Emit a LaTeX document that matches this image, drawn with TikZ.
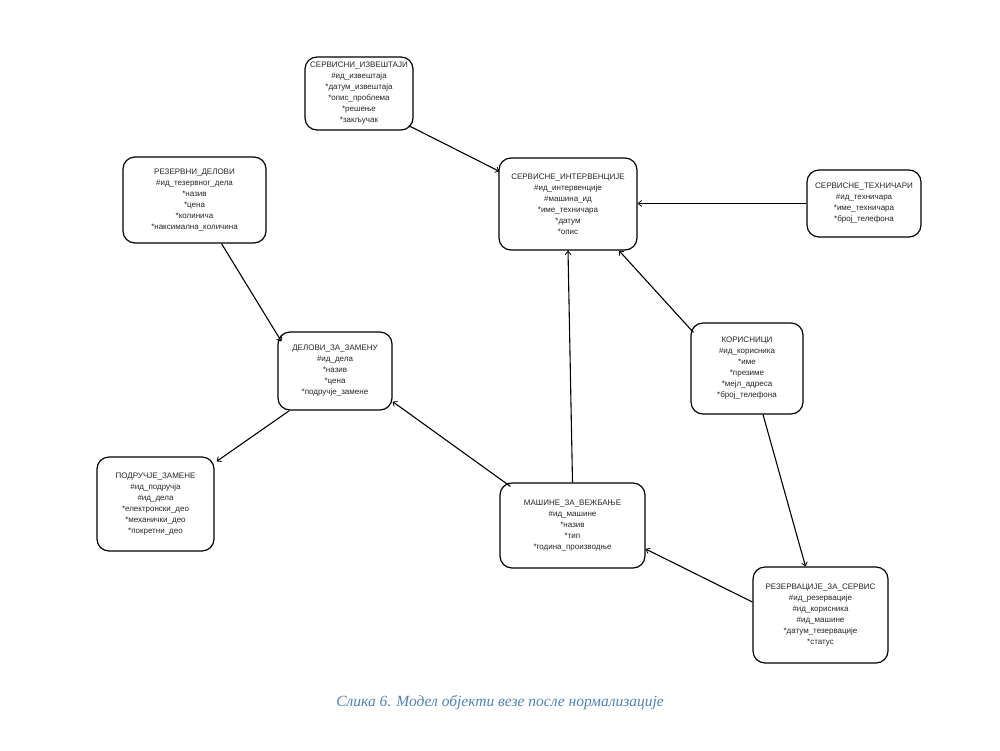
\documentclass[tikz,border=0pt]{standalone}
\usepackage{fontspec}
\setmainfont{Liberation Serif}
\newfontfamily\boxfont{Liberation Sans}
\usetikzlibrary{arrows.meta}
\definecolor{capblue}{RGB}{79,129,189}
\tikzset{
  ent/.style={draw=black, line width=1.2pt, rounded corners=12pt, align=center,
    font=\boxfont\fontsize{8}{11}\selectfont, text=black!85, inner sep=0pt, fill=white},
  conn/.style={draw=black, line width=1.1pt},
  crow/.style={conn, -{Straight Barb[length=3.5pt,width=6pt,line width=0.8pt]}}
}
\begin{document}
\begin{tikzpicture}[x=1pt,y=-1pt]
\path[fill=white] (0,0) rectangle (1000,750);
\useasboundingbox (0,0) rectangle (1000,750);

\node[ent, minimum width=108pt, minimum height=73pt] (izv) at (359,93.5)
 {СЕРВИСНИ\_ИЗВЕШТАЈИ\\\#ид\_извештаја\\*датум\_извештаја\\*опис\_проблема\\*решење\\*закључак};
\node[ent, minimum width=143pt, minimum height=86pt] (rez) at (194.5,200)
 {РЕЗЕРВНИ\_ДЕЛОВИ\\\#ид\_тезервног\_дела\\*назив\\*цена\\*колинича\\*наксимална\_количина};
\node[ent, minimum width=138pt, minimum height=92pt] (int) at (568,204)
 {СЕРВИСНЕ\_ИНТЕРВЕНЦИЈЕ\\\#ид\_интервенције\\\#машина\_ид\\*име\_техничара\\*датум\\*опис};
\node[ent, minimum width=114pt, minimum height=67pt] (teh) at (864,203.5)
 {СЕРВИСНЕ\_ТЕХНИЧАРИ\\\#ид\_техничара\\*име\_техничара\\*број\_телефона};
\node[ent, minimum width=114pt, minimum height=78pt] (del) at (335,371)
 {ДЕЛОВИ\_ЗА\_ЗАМЕНУ\\\#ид\_дела\\*назив\\*цена\\*подручје\_замене};
\node[ent, minimum width=112pt, minimum height=91pt] (kor) at (747,368.5)
 {КОРИСНИЦИ\\\#ид\_корисника\\*име\\*презиме\\*мејл\_адреса\\*број\_телефона};
\node[ent, minimum width=117pt, minimum height=94pt] (pod) at (155.5,504)
 {ПОДРУЧЈЕ\_ЗАМЕНЕ\\\#ид\_подручја\\\#ид\_дела\\*електронски\_део\\*механички\_део\\*покретни\_део};
\node[ent, minimum width=145pt, minimum height=85pt] (mas) at (572.5,525.5)
 {МАШИНЕ\_ЗА\_ВЕЖБАЊЕ\\\#ид\_машине\\*назив\\*тип\\*година\_производње};
\node[ent, minimum width=135pt, minimum height=96pt] (rzs) at (820.5,615)
 {РЕЗЕРВАЦИЈЕ\_ЗА\_СЕРВИС\\\#ид\_резервације\\\#ид\_корисника\\\#ид\_машине\\*датум\_тезервације\\*статус};

% connectors
\draw[crow] ([xshift=-5pt,yshift=5pt]izv.south east) -- ([xshift=1pt,yshift=-14pt]int.north west);
\draw[crow] (teh.west) -- (int.east |- teh.west);
\draw[crow] ([xshift=27pt]rez.south) -- ([xshift=4pt,yshift=-10pt]del.north west);
\draw[crow] ([xshift=12pt]del.south west) -- ([xshift=2pt,yshift=-5pt]pod.north east);
\draw[crow] ([xshift=11pt,yshift=-4pt]mas.north west) -- ([yshift=9pt]del.south east);
\draw[crow] (mas.north) -- (int.south);
\draw[crow] ([xshift=3pt,yshift=-10pt]kor.north west) -- ([xshift=51pt]int.south);
\draw[crow] ([xshift=16pt]kor.south) -- ([xshift=-15pt]rzs.north);
\draw[crow] ([yshift=13pt]rzs.west) -- ([yshift=-23.5pt]mas.east);

\node[font=\itshape\fontsize{15.5}{18}\selectfont, text=capblue, inner sep=0pt] (cap) at (500,703)
 {Слика 6. Модел објекти везе после нормализације};
\end{tikzpicture}
\end{document}
